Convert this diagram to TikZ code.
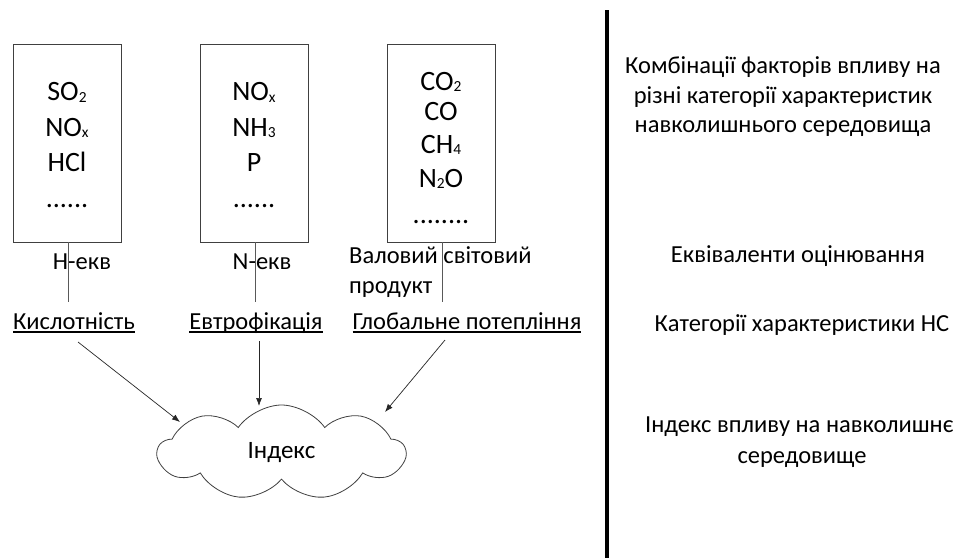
\documentclass[tikz,border=0pt]{standalone}
\usepackage{fontspec}
\setmainfont{Carlito}
\usepackage{graphicx}
\usetikzlibrary{shapes.symbols,arrows.meta}

% small lowered index for chemical formulas
\newcommand\chemsub[1]{\raisebox{-0.06em}{\scalebox{0.55}{#1}}}
% underline at a fixed depth below the baseline
\newsavebox\ulnbox
\newcommand\uln[1]{\sbox\ulnbox{#1}\rlap{\usebox\ulnbox}\rule[-0.16em]{\wd\ulnbox}{0.06em}}

\begin{document}
\begin{tikzpicture}[x=1pt,y=-1pt,
  subst/.style={draw=black!75, line width=0.8pt, minimum width=108pt,
    minimum height=198pt, inner sep=0pt},
  chem/.style={font=\fontsize{28}{35.5}\selectfont, text width=104pt,
    align=center, anchor=base, inner sep=0pt},
  chemline/.style={font=\fontsize{28}{34}\selectfont, anchor=base, inner sep=0pt},
  lbl/.style={font=\fontsize{24.5}{30}\selectfont, inner sep=0pt, anchor=base},
  link/.style={draw=black!65, line width=0.8pt},
  arr/.style={draw=black!85, line width=0.7pt, -{Latex[length=8pt,width=6pt]}},
  sep/.style={line width=4pt, draw=black}]

\path[use as bounding box, clip] (0,0) rectangle (963,557);
\fill[white] (0,0) rectangle (963,557);

% substance boxes
\node[subst] (b1) at (67,143) {};
\node[subst] (b2) at (254,143) {};
\node[subst] (b3) at (441,143) {};

\node[chem] (t1) at (67,100.7) {SO\chemsub{2}\\NO\chemsub{x}\\HCl\\......};
\node[chem] (t2) at (254,100.7) {NO\chemsub{x}\\NH\chemsub{3}\\P\\......};
\node[chemline] (t3a) at (441,90)  {CO\chemsub{2}};
\node[chemline] (t3b) at (441,120) {CO};
\node[chemline] (t3c) at (441,153) {CH\chemsub{4}};
\node[chemline] (t3d) at (441,187) {N\chemsub{2}O};
\node[chemline] (t3e) at (441,223) {........};

% equivalents
\node[lbl] (hekv) at (82,269) {Н-екв};
\node[lbl] (nekv) at (262,269) {N-екв};
\node[lbl, anchor=base west] (vvp) at (349,263) {Валовий світовий};
\node[lbl, anchor=base west] (prod) at (349,293) {продукт};

% impact categories
\node[lbl] (kis) at (74,329) {\uln{Кислотність}};
\node[lbl] (evt) at (256,329) {\uln{Евтрофікація}};
\node[lbl] (glob) at (467,329) {\uln{Глобальне потепління}};

\coordinate (c1) at (68,302);
\coordinate (c2) at (255,302);
\coordinate (c3) at (442,302);
\draw[link] (b1.south -| c1) -- (c1);
\draw[link] (b2.south -| c2) -- (c2);
\draw[link] (b3.south -| c3) -- (c3);

% aggregated index
\node[cloud, draw=black!75, line width=0.8pt, cloud puffs=9, cloud puff arc=110,
  aspect=2.6, minimum width=247pt, minimum height=95pt, inner sep=0pt,
  font=\fontsize{25}{30}\selectfont] (idx) at (281.5,452.5) {Індекс};

\coordinate (s1) at (78,342);   \coordinate (e1) at (180,422);
\coordinate (s2) at (259,341);  \coordinate (e2) at (259,406);
\coordinate (s3) at (445,340);  \coordinate (e3) at (385,412);
\draw[arr] (s1) -- (e1);
\draw[arr] (s2) -- (e2);
\draw[arr] (s3) -- (e3);

% separator
\coordinate (top) at (607,10);
\coordinate (bot) at (607,560);
\draw[sep] (top) -- (bot);

% level descriptions
\node[lbl] (r1a) at (783,73) {Комбінації факторів впливу на};
\node[lbl] (r1b) at (783,103) {різні категорії характеристик};
\node[lbl] (r1c) at (783,132) {навколишнього середовища};
\node[lbl] (r2) at (798,262) {Еквіваленти оцінювання};
\node[lbl] (r3) at (802,331) {Категорії характеристики НС};
\node[lbl, anchor=base west] (r4a) at (645,432) {Індекс впливу на навколишнє};
\node[lbl] (r4b) at (802,463) {середовище};
\end{tikzpicture}
\end{document}
